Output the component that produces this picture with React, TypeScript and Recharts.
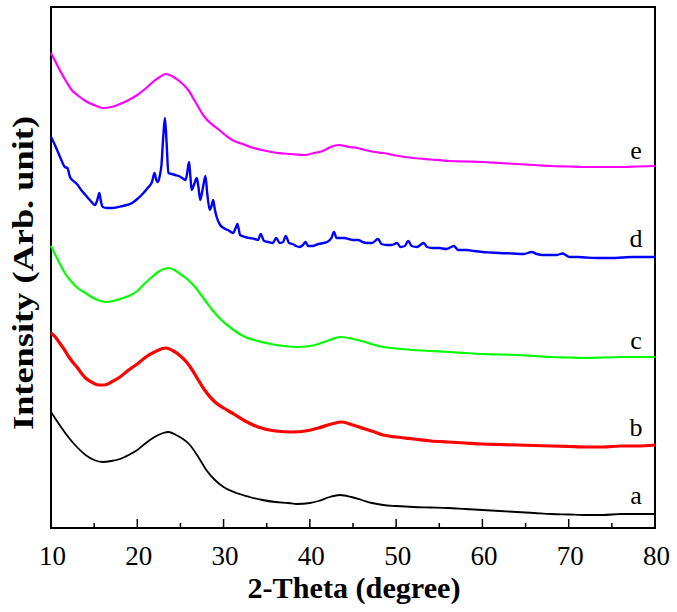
import { LineChart, Line, XAxis, YAxis, ReferenceArea, ReferenceDot } from "recharts";

// 2-theta (deg) / intensity (arb.) pairs, offset stacked
const curveA: [number, number][] = [
  [10, 116], [11, 103], [12, 91], [13, 81], [14, 73], [15, 68], [16, 66], [17, 67], [18, 69], [19, 73],
  [20, 78], [21, 85], [22, 91], [23, 95], [23.6, 96], [24.5, 93], [25.3, 89], [26, 84], [27, 72], [28, 58],
  [29, 48], [30, 41], [31.5, 35], [33, 31], [34.5, 28], [36, 26], [37.5, 25], [38.5, 24], [40, 25], [41, 27],
  [42.3, 31], [43.5, 33], [44.8, 31], [46, 28], [47.2, 25], [48.5, 23], [50, 22], [52, 21], [54, 20.5], [56, 20],
  [58, 19], [60, 18], [62, 17], [64, 16], [66, 15], [68, 14], [70, 13.5], [72, 13], [74, 13], [76, 14],
  [78, 14], [80, 14],
];

const curveB: [number, number][] = [
  [10, 195], [10.5, 191], [11, 185], [11.5, 179], [12, 172], [12.5, 166], [13, 161], [13.5, 155], [14, 150], [14.7, 146],
  [15.5, 143], [16.2, 143], [17, 146], [18, 151], [19, 158], [20, 164], [21, 171], [22, 176], [23.3, 180], [24.2, 177],
  [25, 172], [25.7, 166], [26.3, 159], [27, 149], [27.8, 138], [29, 126], [30, 120], [31, 115], [32.5, 107], [34, 101],
  [36, 97], [38, 96], [39.5, 97], [41, 100], [42.5, 104], [43.7, 106], [45, 103], [46.4, 99], [47.5, 96], [48.5, 93],
  [50, 91], [52, 89], [54, 87], [56, 86], [58, 85], [60, 84], [62, 83.5], [64, 83], [66, 82.5], [68, 82],
  [70, 81.5], [72, 81], [74, 81], [76, 82], [78, 82], [80, 83],
];

const curveC: [number, number][] = [
  [10, 282], [10.8, 268], [11.6, 255], [12.3, 247], [13.1, 240], [14, 235], [14.5, 232], [15.4, 228], [16.3, 226], [17.2, 227],
  [18, 229], [19, 232], [20, 237], [20.8, 244], [21.7, 251], [22.6, 257], [23.6, 260], [24.3, 258], [25, 254], [25.9, 248],
  [26.7, 241], [27.4, 233], [28, 226], [28.7, 218], [29.4, 211], [31, 199], [32.5, 191], [34, 187], [35.5, 184], [37, 182],
  [38.6, 181], [40, 182], [41, 184], [42.3, 188], [43.5, 191], [45, 189], [46.4, 186], [47.5, 183], [48.5, 181], [50, 179.5],
  [52, 178], [54, 177], [56.2, 176], [58, 175], [60, 174], [62, 173.5], [64, 173], [66, 172], [68, 171], [70, 170.5],
  [71.6, 170], [74, 170.5], [76, 171], [78, 171], [80, 171],
];

const curveD: [number, number][] = [
  [10, 391], [10.4, 384], [10.8, 376], [11.2, 368], [11.6, 361], [11.9, 360], [12.2, 351], [12.6, 347], [13, 344], [13.5, 338],
  [14, 333], [14.5, 328], [15.1, 323], [15.4, 329], [15.6, 335], [15.8, 326], [16, 321], [16.5, 320], [17.1, 320], [18.3, 322],
  [19.4, 325], [20, 329], [20.5, 333], [21.2, 340], [21.7, 346], [22, 355], [22.2, 348], [22.4, 346], [22.6, 352], [22.8, 363],
  [23, 390], [23.2, 410], [23.4, 385], [23.6, 355], [24, 354], [24.4, 353], [24.8, 352], [25.2, 350], [25.6, 348], [25.8, 356],
  [26, 366], [26.15, 352], [26.3, 338], [26.6, 344], [26.9, 350], [27.1, 340], [27.3, 328], [27.6, 340], [27.9, 352], [28.1, 335],
  [28.4, 318], [28.6, 322], [28.8, 328], [29, 318], [29.2, 311], [29.6, 303], [30, 300], [30.5, 298], [31.1, 295], [31.4, 300],
  [31.6, 304], [31.8, 297], [31.9, 293], [32.5, 291], [33, 290], [33.6, 289], [34, 288], [34.3, 294], [34.7, 287], [35.2, 286],
  [35.7, 285], [36.1, 290], [36.5, 285], [36.9, 286], [37.2, 292], [37.6, 285], [38, 284], [38.4, 282], [38.8, 281], [39.2, 283],
  [39.5, 286], [39.8, 282], [40.3, 282], [41, 284], [41.6, 285], [42, 286], [42.5, 290], [42.8, 296], [43.1, 290], [43.5, 290],
  [44, 290], [44.5, 289], [45, 288], [45.6, 288], [46.1, 286], [46.6, 285], [47.2, 285], [47.9, 289], [48.3, 284], [48.9, 283],
  [49.5, 283], [50.1, 285], [50.5, 281], [51, 282], [51.4, 287], [51.8, 282], [52.4, 281], [53.2, 285], [53.6, 281], [54.2, 280],
  [55, 280], [55.8, 279], [56.7, 282], [57.2, 278], [58.2, 278], [59, 277], [60, 276], [61, 275.5], [62, 275], [63.5, 274.5],
  [64.8, 274], [65.7, 276], [66.3, 274], [67, 273], [67.8, 273], [68.6, 273], [69.3, 274.5], [70.1, 271], [71, 271], [72, 270.5],
  [73.6, 270], [75, 270], [76.2, 270.5], [77.4, 271], [78.6, 271], [80, 271],
];

const curveE: [number, number][] = [
  [10, 475], [10.6, 465], [11.2, 455], [11.8, 446], [12.4, 438], [13.2, 432], [14, 427], [15, 423], [16, 420], [17, 421],
  [18, 424], [19, 428], [20, 433], [20.9, 439], [21.8, 446], [22.6, 451], [23.3, 454], [24.2, 451], [25, 446], [25.5, 442],
  [25.9, 438], [26.8, 425], [27.8, 411], [28.6, 404], [29.5, 398], [30.2, 393], [31, 388], [32.2, 384], [33.5, 380], [35, 377],
  [36.3, 375], [37.8, 374], [39.4, 373], [40.5, 375], [41.5, 377], [42.4, 381], [43.3, 383], [44.6, 381], [45.5, 380], [46.4, 378],
  [47.5, 376], [48.5, 375], [50, 372.5], [52, 370], [54, 368.5], [56.2, 367], [58, 366.5], [60, 366], [62, 365], [64, 364],
  [66, 363], [68, 362], [70, 361.5], [71.6, 361], [74, 361], [76, 361], [78, 361.5], [80, 362],
];

const seriesNames = ["a", "b", "c", "d", "e"];
const seriesColors = ["#000000", "#ff0000", "#00ff00", "#0000ff", "#ff00ff"];
const seriesWidths = [1.8, 3.2, 2.2, 2.4, 2.2];
const curves = [curveA, curveB, curveC, curveD, curveE];

// where the a..e captions sit, in data units
const captionX = [77.8, 77.8, 77.8, 77.8, 77.8];
const captionY = [33, 101, 188, 290, 378];

const xTicks = [10, 15, 20, 25, 30, 35, 40, 45, 50, 55, 60, 65, 70, 75, 80];

const serif = "Liberation Serif, Times New Roman, serif";

function InwardTick(props: any) {
  const { x, y, payload } = props;
  const major = payload.value % 10 === 0;
  return (
    <g>
      <line x1={x} x2={x} y1={y} y2={y - (major ? 9 : 5)} stroke="#000" strokeWidth={1.5} />
      {major && (
        <text x={x + 1.5} y={y + 37} textAnchor="middle" fontFamily={serif} fontSize={27} fill="#000">
          {payload.value}
        </text>
      )}
    </g>
  );
}

function XTitle(props: any) {
  const { viewBox } = props;
  const cx = viewBox.x + viewBox.width / 2;
  return (
    <text x={cx + 1} y={598} textAnchor="middle" fontFamily={serif} fontSize={29} fontWeight="bold" fill="#000"
      textLength={213} lengthAdjust="spacingAndGlyphs">
      2-Theta (degree)
    </text>
  );
}

function YTitle() {
  return (
    <text x={0} y={0} transform="translate(33, 273) rotate(-90)" textAnchor="middle" fontFamily={serif}
      fontSize={30} fontWeight="bold" fill="#000" textLength={314} lengthAdjust="spacingAndGlyphs">
      Intensity (Arb. unit)
    </text>
  );
}

export default function App() {
  return (
    <div style={{ position: "absolute", left: 0, top: 0, width: 677, height: 612, background: "#fff" }}>
      <LineChart width={677} height={612} margin={{ top: 7, right: 22, left: 0, bottom: 0 }}>
        <XAxis
          type="number"
          dataKey="t"
          domain={[10, 80]}
          ticks={xTicks}
          allowDuplicatedCategory={false}
          height={84}
          tickSize={0}
          tickMargin={0}
          tickLine={false}
          axisLine={false}
          tick={<InwardTick />}
          label={<XTitle />}
        />
        <YAxis
          type="number"
          domain={[0, 521]}
          width={51}
          tick={false}
          tickLine={false}
          axisLine={false}
          label={<YTitle />}
        />
        <ReferenceArea x1={10} x2={80} y1={0} y2={521} fill="none" stroke="#000" strokeWidth={2} />
        {curves.map((c, i) => (
          <Line
            key={seriesNames[i]}
            data={c.map(([t, v]) => ({ t, v }))}
            dataKey="v"
            type="monotone"
            stroke={seriesColors[i]}
            strokeWidth={seriesWidths[i]}
            dot={false}
            isAnimationActive={false}
          />
        ))}
        {seriesNames.map((n, i) => (
          <ReferenceDot
            key={"cap" + n}
            x={captionX[i]}
            y={captionY[i]}
            r={0}
            fill="none"
            stroke="none"
            label={{ value: n, position: "center", fontFamily: serif, fontSize: 26, fill: "#000" }}
          />
        ))}
      </LineChart>
    </div>
  );
}
